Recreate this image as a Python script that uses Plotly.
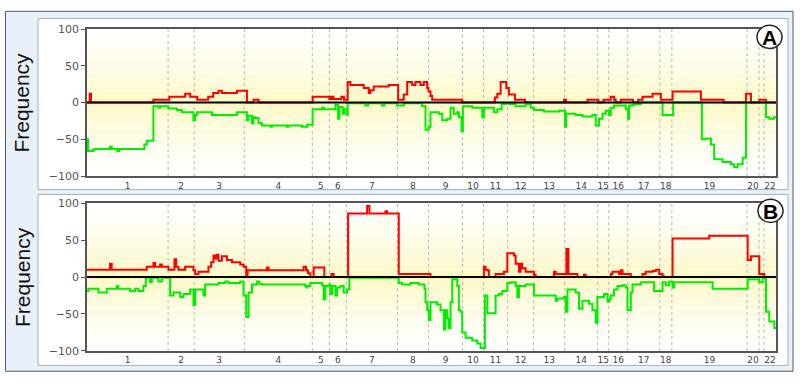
import plotly.graph_objects as go

# ---------------- data ----------------
CHROM_EDGES = [0, 81, 107, 157, 225, 242, 259, 310, 341, 375, 396, 420, 446,
               477, 510, 521, 540, 572, 584, 659, 671, 676, 688]
CHROM_LABELS = ["1", "2", "3", "4", "5", "6", "7", "8", "9", "10", "11", "12",
                "13", "14", "15", "16", "17", "18", "19", "20", "", "22"]
Y_TICKS = [-100, -50, 0, 50, 100]

A_GAIN_POS = [0, 2.7, 4, 66.3, 82.3, 98, 103, 110, 121, 126, 131.3, 134.7, 149.7, 159.7,
              166.3, 171.3, 225.3, 242, 244, 246, 254, 256.5, 260.3, 263, 276.3, 281.3,
              283, 286.3, 301.3, 310.7, 316.3, 319.7, 324.7, 328, 333, 336.3, 339.7, 341,
              343, 344.7, 374.7, 407.3, 409.7, 413, 418.7, 421.3, 427.3, 437.3, 439.7,
              476.3, 478.3, 499.7, 510.7, 515.7, 523, 526.3, 528, 533, 545.3, 550.3,
              554.7, 564.7, 573, 584.7, 613, 635.7, 658, 663, 671.3, 678, 688]
A_GAIN_VAL = [0, 12, 0, 4, 8, 12, 8, 4, 8, 13, 16, 13, 16, 0,
              4, 0, 8, 5, 8, 5, 8, 4, 28, 24, 20, 13,
              17, 22, 24, 4, 11, 28, 24, 28, 24, 28, 20, 15,
              9, 4, 0, 7, 12, 28, 20, 11, 4, 1, 0,
              4, 0, 4, 0, 4, 8, 4, 0, 4, 0, 4,
              8, 12, 4, 15, 4, 0, 12, 0, 4, 0, 0]

A_LOSS_POS = [0, 1, 6, 8, 23, 24.7, 30.3, 32, 57.3, 59.7, 66.3, 71.3, 73, 81.3, 89.7,
              94.7, 106.3, 108, 109.7, 124.7, 149.7, 159.7, 161.3, 164.7, 166.3, 168,
              171.3, 174.7, 183, 184.7, 199.7, 201.3, 214.7, 219.7, 225.3, 234.7, 236.3,
              248, 250.7, 252, 255.3, 257, 259.7, 260.3, 278, 280.7, 294.7, 297, 309.7,
              316.3, 334.7, 338, 341.3, 343, 351.3, 354.7, 359.7, 363, 366.3, 369.7,
              371.3, 374, 375.3, 384.7, 394.7, 396.3, 406.3, 409.7, 414, 418, 421.3,
              428, 438, 443, 446.3, 456.3, 471.3, 477.3, 478.3, 488, 494.7, 504.7, 508,
              511.3, 514.7, 518, 521.3, 523, 526.3, 538, 540.3, 541.3, 544.7, 548, 553,
              574.7, 585.3, 614, 618, 623, 626.3, 634.7, 643, 646.3, 649.7, 654.7, 658,
              678, 681.3, 686, 688]
A_LOSS_VAL = [-50, -66, -64, -63, -60, -63, -66, -63, -57, -52, -5, -7, -5, -8, -10,
              -13, -24, -17, -13, -17, -13, -24, -18, -28, -20, -21,
              -28, -31, -33, -31, -33, -31, -33, -30, -9, -7, -9,
              -3, -22, -6, -15, -9, -17, -1, -4, -1, -4, -1, -4,
              -1, -5, -37, -33, -13, -15, -24, -22, -7, -15, -13,
              -20, -39, -5, -7, -20, -7, -13, -9, -2, -1, -2,
              -5, -2, -7, -10, -12, -11, -33, -15, -17, -19, -17, -31,
              -22, -15, -11, -17, -7, -4, -9, -22, -4, -3, -2, 0,
              -17, 0, -50, -49, -57, -77, -81, -84, -88, -84, -75, 0,
              -20, -22, -20, -20]

B_GAIN_POS = [0, 23, 24.7, 59.7, 66.3, 68, 73, 74.7, 81.3, 87.3, 89, 91.3, 98, 106.3,
              108, 111.3, 121.3, 124, 126.3, 128, 129.7, 131.3, 134.7, 139.7, 144.7,
              153, 156.3, 159, 160.3, 179.7, 181.3, 216.3, 218.7, 220.7, 223, 226.3,
              237, 244, 246.3, 260.7, 279.7, 282, 298, 299.7, 311.3, 343, 396.3, 398,
              399.7, 401.3, 408, 416.3, 419.7, 426.3, 428, 431.3, 433, 434.7, 438,
              446.3, 448, 466.3, 468, 478.7, 480.7, 489.7, 496.3, 498, 523, 524.7,
              531.3, 533, 534.7, 543, 554.7, 558, 564.7, 568, 571.3, 574.7, 576,
              584.7, 621.3, 659.7, 663, 671.3, 676.3, 688]
B_GAIN_VAL = [10, 18, 10, 14, 19, 14, 17, 14, 10, 24, 14, 10, 14, 9,
              4, 7, 14, 20, 29, 25, 30, 22, 28, 23, 20,
              17, 14, 0, 9, 13, 9, 14, 9, 5, 0, 13,
              0, 4, 0, 86, 96, 86, 89, 86, 4, 0, 14, 10,
              9, 0, 4, 7, 32, 29, 18, 7, 18, 12, 7,
              3, 0, 7, 4, 38, 4, 0, 3, 0, 4, 7,
              4, 9, 4, 0, 4, 7, 8, 10, 4, 1, 0,
              52, 56, 23, 28, 4, 0, 0]

B_LOSS_POS = [0, 1.3, 11.3, 19.7, 29.7, 31.3, 43, 48, 51.3, 56.3, 58.7, 63, 64.7, 71.3,
              74.7, 83, 86.3, 93, 96.3, 103, 106.3, 108, 116.3, 118, 131.3, 138, 141.3,
              153, 156.3, 159, 161.3, 164.7, 169.7, 172, 174.7, 218, 219, 220, 223,
              234.7, 236.3, 238, 242, 243, 244.7, 248, 249.7, 253, 256.3, 259.7, 262,
              311.3, 314.7, 323, 331.3, 337, 338, 339.7, 341.3, 343, 349.7, 353, 356.3,
              358, 359.7, 361.3, 363, 364.7, 367.3, 369.7, 371.3, 373, 374.7, 378,
              384.7, 389.7, 393, 397.3, 399.7, 408, 411.3, 414.7, 419.7, 423, 428,
              429.7, 431.3, 438, 446.3, 468, 469.7, 476.3, 478, 479.7, 488, 491.3,
              494.7, 501.3, 504.7, 508, 509.7, 516.3, 519.7, 521.3, 523, 526.3, 529.7,
              534.7, 538, 539.7, 543, 544.7, 553, 566.3, 574.7, 578, 581.3, 584.7,
              586.3, 624.7, 659.7, 671.3, 674.7, 678, 681.3, 686.3, 688]
B_LOSS_VAL = [-19, -16, -21, -16, -12, -16, -19, -16, -19, -12, -1, -7, -1, -6,
              -1, -25, -21, -27, -23, -17, -38, -17, -25, -10, -8, -6, -8,
              -6, -25, -54, -21, -10, -6, -9, -10, -12, -14, -12, -8,
              -11, -30, -12, -10, -23, -12, -25, -14, -12, -21, -17, -1,
              -8, -10, -8, -10, -16, -34, -45, -58, -34, -37, -45, -71,
              -45, -56, -69, -34, -3, -1, -12, -45, -47, -75, -82,
              -86, -90, -96, -25, -49, -25, -23, -19, -8, -7, -12,
              -27, -12, -10, -25, -32, -29, -27, -47, -17, -21, -43,
              -32, -36, -45, -62, -27, -23, -33, -30, -25, -17, -12,
              -11, -14, -45, -21, -10, -7, -19, -7, -11, -6, -14,
              -7, -16, -3, -7, -1, -47, -60, -69, -69]

PANELS = [("A", A_GAIN_POS, A_GAIN_VAL, A_LOSS_POS, A_LOSS_VAL),
          ("B", B_GAIN_POS, B_GAIN_VAL, B_LOSS_POS, B_LOSS_VAL)]

# ---------------- layout geometry (pixels) ----------------
W, H = 800, 385
PLOT_X0, PLOT_X1 = 87, 776
PLOT_Y = [(24, 176), (204, 357)]
BOXES = [(38, 13, 788, 190), (38, 195, 788, 372)]
CIRCLES = [(769.5, 32), (770.5, 212)]


def px(x):
    return x / W


def py(y):
    return 1 - y / H


fig = go.Figure()
shapes = []
annotations = []

# outer frame
shapes.append(dict(type="rect", xref="paper", yref="paper", layer="below",
                   x0=px(5.5), x1=px(793), y0=py(378), y1=py(5.5),
                   fillcolor="#e8f0f9", line=dict(color="#5a5a5a", width=1)))

mids = [(CHROM_EDGES[i] + CHROM_EDGES[i + 1]) / 2 for i in range(len(CHROM_EDGES) - 1)]

for k, (letter, gp, gv, lp, lv) in enumerate(PANELS):
    n = "" if k == 0 else str(k + 1)
    xa, ya = "x" + n, "y" + n
    bx0, by0, bx1, by1 = BOXES[k]
    shapes.append(dict(type="rect", xref="paper", yref="paper", layer="below",
                       x0=px(bx0), x1=px(bx1), y0=py(by1), y1=py(by0),
                       fillcolor="white", line=dict(color="#a8b0b8", width=1)))
    # gradient background bands
    nb = 40
    for i in range(nb):
        y0 = -100 + 200 * i / nb
        y1 = -100 + 200 * (i + 1) / nb
        t = 1 - abs((y0 + y1) / 2) / 100
        t = t ** 1.3
        r = int(round(255 - (255 - 252) * t))
        g = int(round(255 - (255 - 248) * t))
        b = int(round(255 - (255 - 196) * t))
        shapes.append(dict(type="rect", xref=xa + " domain", yref=ya, layer="below",
                           x0=0, x1=1, y0=y0, y1=y1,
                           fillcolor=f"rgb({r},{g},{b})", line=dict(width=0)))
    # chromosome boundaries
    for e in CHROM_EDGES[1:-1]:
        shapes.append(dict(type="line", xref=xa, yref=ya + " domain", layer="below",
                           x0=e, x1=e, y0=0, y1=1,
                           line=dict(color="#b8b8b8", width=1, dash="dot")))

    fig.add_trace(go.Scatter(x=gp, y=gv, mode="lines", line=dict(color="#ff0000", width=2, shape="hv"),
                             xaxis=xa, yaxis=ya, showlegend=False, hoverinfo="skip"))
    fig.add_trace(go.Scatter(x=lp, y=lv, mode="lines", line=dict(color="#00ee00", width=2, shape="hv"),
                             xaxis=xa, yaxis=ya, showlegend=False, hoverinfo="skip"))
    fig.add_trace(go.Scatter(x=[CHROM_EDGES[0], CHROM_EDGES[-1]], y=[0, 0], mode="lines",
                             line=dict(color="black", width=2),
                             xaxis=xa, yaxis=ya, showlegend=False, hoverinfo="skip"))

    ytop, ybot = PLOT_Y[k]
    fig.update_layout(**{
        "xaxis" + n: dict(domain=[px(PLOT_X0), px(PLOT_X1)], range=[CHROM_EDGES[0], CHROM_EDGES[-1]],
                          anchor=ya, showgrid=False, zeroline=False, showline=True, mirror=True,
                          linecolor="#555555", linewidth=1.5, ticks="",
                          tickmode="array", tickvals=mids, ticktext=CHROM_LABELS,
                          tickfont=dict(family="DejaVu Sans", size=9, color="#444444")),
        "yaxis" + n: dict(domain=[py(ybot), py(ytop)], range=[-100, 100], anchor=xa,
                          showgrid=False, zeroline=False, showline=True, mirror=True,
                          linecolor="#555555", linewidth=1.5, ticks="outside", ticklen=4,
                          tickcolor="#555555", tickmode="array", tickvals=Y_TICKS,
                          tickfont=dict(family="DejaVu Sans", size=11, color="#555555")),
    })

    annotations.append(dict(text="Frequency", xref="paper", yref="paper", x=px(22), y=py((ytop + ybot) / 2),
                            textangle=-90, showarrow=False, xanchor="center", yanchor="middle",
                            font=dict(family="Liberation Sans, Arial", size=21, color="#111111")))
    cx, cy = CIRCLES[k]
    shapes.append(dict(type="circle", xref="paper", yref="paper", layer="above",
                       x0=px(cx - 12.5), x1=px(cx + 12.5), y0=py(cy + 12), y1=py(cy - 12),
                       fillcolor="white", line=dict(color="#222222", width=1.5)))
    annotations.append(dict(text="<b>" + letter + "</b>", xref="paper", yref="paper",
                            x=px(cx), y=py(cy + 0.5), showarrow=False, xanchor="center", yanchor="middle",
                            font=dict(family="Liberation Sans, Arial", size=21, color="black")))

fig.update_layout(width=W, height=H, margin=dict(l=0, r=0, t=0, b=0),
                  paper_bgcolor="white", plot_bgcolor="white",
                  shapes=shapes, annotations=annotations, showlegend=False)

fig.write_html("out.html", config={"displayModeBar": False},
               post_script="document.body.style.margin='0';document.body.style.overflow='hidden';")
